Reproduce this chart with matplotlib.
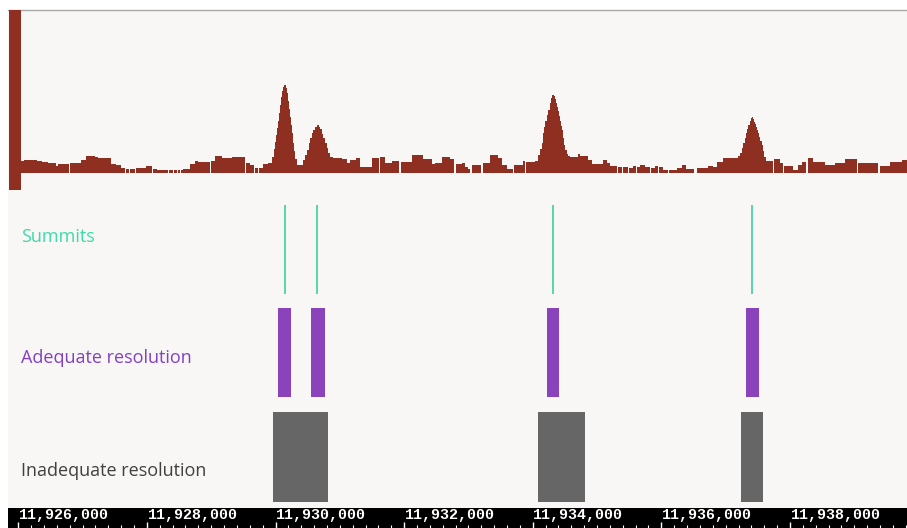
import matplotlib
matplotlib.use("Agg")
import matplotlib.pyplot as plt
from matplotlib.patches import Rectangle
import numpy as np

# ---- data -------------------------------------------------------------
view_start, view_end = 11925840, 11939820

# coverage track as bedGraph-style steps (start of each step, value)
sig_starts = [
    11926030, 11926090, 11926290, 11926370, 11926460, 11926590, 11926620, 11926790,
    11926800, 11926980, 11927050, 11927190, 11927240, 11927440, 11927520, 11927600,
    11927660, 11927680, 11927720, 11927740, 11927820, 11927830, 11927990, 11928080,
    11928100, 11928160, 11928200, 11928330, 11928350, 11928410, 11928420, 11928470,
    11928480, 11928510, 11928530, 11928560, 11928670, 11928750, 11928790, 11928980,
    11929000, 11929060, 11929170, 11929320, 11929520, 11929540, 11929600, 11929660,
    11929680, 11929730, 11929740, 11929810, 11929880, 11929950, 11929980, 11929990,
    11930010, 11930020, 11930040, 11930050, 11930070, 11930090, 11930100, 11930120,
    11930130, 11930160, 11930180, 11930190, 11930210, 11930220, 11930240, 11930260,
    11930270, 11930290, 11930300, 11930330, 11930430, 11930460, 11930490, 11930520,
    11930540, 11930570, 11930580, 11930610, 11930650, 11930680, 11930690, 11930720,
    11930740, 11930770, 11930800, 11930820, 11930850, 11930890, 11931030, 11931110,
    11931160, 11931250, 11931310, 11931500, 11931610, 11931630, 11931700, 11931810,
    11931920, 11931950, 11932120, 11932290, 11932430, 11932480, 11932590, 11932710,
    11932780, 11932800, 11932900, 11932950, 11932990, 11933030, 11933060, 11933200,
    11933230, 11933340, 11933460, 11933520, 11933600, 11933690, 11933710, 11933850,
    11933880, 11933900, 11934040, 11934080, 11934110, 11934140, 11934160, 11934180,
    11934190, 11934220, 11934240, 11934270, 11934280, 11934300, 11934330, 11934350,
    11934360, 11934380, 11934390, 11934410, 11934420, 11934440, 11934460, 11934470,
    11934490, 11934500, 11934530, 11934550, 11934580, 11934700, 11934740, 11934860,
    11934920, 11935090, 11935160, 11935200, 11935310, 11935330, 11935390, 11935400,
    11935480, 11935500, 11935560, 11935610, 11935620, 11935670, 11935750, 11935820,
    11935840, 11935900, 11935950, 11935960, 11936030, 11936100, 11936120, 11936240,
    11936320, 11936380, 11936510, 11936550, 11936730, 11936800, 11936870, 11936960,
    11937190, 11937220, 11937260, 11937270, 11937300, 11937320, 11937330, 11937350,
    11937380, 11937390, 11937410, 11937430, 11937440, 11937460, 11937470, 11937490,
    11937500, 11937520, 11937530, 11937570, 11937580, 11937600, 11937630, 11937740,
    11937750, 11937850, 11937890, 11937910, 11938050, 11938130, 11938190, 11938250,
    11938280, 11938360, 11938550, 11938700, 11938860, 11939040, 11939060, 11939370,
    11939400, 11939560, 11939740,
]
sig_end = 11939820
sig_values = [
    12, 13.5, 12, 11, 10, 7, 8.7, 0,
    9.7, 13, 17, 15.7, 15, 8.7, 8, 5,
    0, 4.5, 0, 4, 0, 5, 7, 0,
    4.5, 3, 3.5, 0, 3.5, 0, 3.5, 0,
    3.5, 0, 3.5, 4, 9, 12, 11.5, 0,
    12, 17, 14.7, 16, 0, 10, 8, 0,
    5, 0, 4.7, 9, 10.3, 16, 24, 31,
    38, 45, 52, 60, 68, 76, 82, 86,
    88, 85, 80, 72, 64, 56, 48, 40,
    30, 22, 14, 8, 13, 18, 23, 30,
    35, 40, 43, 46, 48, 46, 44, 39,
    35, 30, 25, 20, 16, 15.5, 14, 10,
    13, 14.7, 6.3, 14.7, 0, 16, 10, 12,
    0, 11, 18, 13.7, 9, 10, 15.7, 13.7,
    0, 9, 9.7, 5.7, 4, 0, 8, 0,
    10, 18, 14.7, 8, 3.7, 0, 8, 12,
    0, 11.5, 12, 18, 24, 30, 40, 46,
    52, 58, 63, 70, 75, 78, 77, 74,
    70, 66, 62, 57, 52, 47, 43, 35,
    28, 23, 19, 17, 15.7, 19, 16.7, 13,
    9, 13, 10, 7, 0, 6, 0, 6.5,
    0, 5, 7, 0, 6, 8, 6, 0,
    5.5, 7, 0, 6, 3.5, 0, 3, 5,
    7.7, 4, 0, 5, 7.3, 5.7, 11, 15,
    17, 20, 25, 30, 35, 40, 44, 48,
    52, 55, 56, 54, 51, 49, 46, 43,
    40, 36, 32, 28, 22, 16, 12.3, 0,
    13.7, 9.7, 0, 7, 3, 8, 11, 0,
    14.7, 11.3, 8, 9.7, 13.7, 0, 9.7, 0,
    7, 11.3, 13,
]
sig_ymax = 163

summit_pos = [11930150, 11930650, 11934315, 11937410]
adequate_start = [11930040, 11930550, 11934222, 11937317]
adequate_end = [11930235, 11930765, 11934409, 11937525]
inadequate_start = [11929965, 11934087, 11937239]
inadequate_end = [11930821, 11934813, 11937586]

ruler_ticks = [11926000, 11928000, 11930000, 11932000, 11934000, 11936000, 11938000]

track_labels = ["Summits", "Adequate resolution", "Inadequate resolution"]

# ---- style ------------------------------------------------------------
BG = "#f9f7f6"
SIGNAL = "#8e2f22"
TEAL = "#49d3a6"
PURPLE = "#8b43bb"
GREY = "#666666"

W, H = 907, 528
fig = plt.figure(figsize=(W / 100, H / 100), dpi=100, facecolor="white")


def box(x0, y0, x1, y1):
    """Axes rectangle from pixel edges (y measured from the top)."""
    return [x0 / W, 1 - y1 / H, (x1 - x0) / W, (y1 - y0) / H]


def bare(ax):
    ax.set_xlim(view_start, view_end)
    ax.set_xticks([])
    ax.set_yticks([])
    for s in ax.spines.values():
        s.set_visible(False)
    ax.patch.set_alpha(0)


# panel background with a thin top rule
panel = fig.add_axes(box(8, 10, 907, 508))
panel.set_facecolor(BG)
panel.set_xticks([])
panel.set_yticks([])
for name, s in panel.spines.items():
    s.set_visible(name == "top")
panel.spines["top"].set_color("#a8a8a8")
panel.spines["top"].set_linewidth(1.0)

# coverage signal
ax_sig = fig.add_axes(box(8, 10, 907, 173))
bare(ax_sig)
edges = np.array(sig_starts + [sig_end], dtype=float)
ax_sig.stairs(sig_values, edges, fill=True, color=SIGNAL, linewidth=0)
ax_sig.set_ylim(0, sig_ymax)

# track colour marker at the left edge
fig.patches.append(Rectangle((9 / W, 1 - 190 / H), 11.5 / W, 180 / H,
                             transform=fig.transFigure, facecolor=SIGNAL,
                             edgecolor="none", zorder=5))

# summits
ax_sum = fig.add_axes(box(8, 205, 907, 294))
bare(ax_sum)
ax_sum.set_ylim(0, 1)
ax_sum.vlines(summit_pos, 0, 1, color=TEAL, linewidth=1.3)

# adequate resolution intervals
ax_ad = fig.add_axes(box(8, 308, 907, 397))
bare(ax_ad)
ax_ad.set_ylim(0, 1)
ax_ad.broken_barh([(s, e - s) for s, e in zip(adequate_start, adequate_end)],
                  (0, 1), facecolor=PURPLE, edgecolor="none")

# inadequate resolution intervals
ax_in = fig.add_axes(box(8, 412, 907, 502))
bare(ax_in)
ax_in.set_ylim(0, 1)
ax_in.broken_barh([(s, e - s) for s, e in zip(inadequate_start, inadequate_end)],
                  (0, 1), facecolor=GREY, edgecolor="none")

# track names
label_font = dict(family=["Open Sans", "DejaVu Sans"], fontsize=13,
                  va="center", ha="left")
fig.text(21 / W, 1 - 237 / H, track_labels[0], color="#3ddba8", **label_font)
fig.text(21 / W, 1 - 358 / H, track_labels[1], color="#8240c2", **label_font)
fig.text(21 / W, 1 - 471 / H, track_labels[2], color="#404040", **label_font)

# coordinate ruler
ax_r = fig.add_axes(box(8, 508, 907, 528))
ax_r.set_facecolor("black")
ax_r.set_xlim(view_start, view_end)
ax_r.set_ylim(0, 1)
ax_r.set_yticks([])
ax_r.set_xticks(ruler_ticks)
ax_r.set_xticklabels([])
ax_r.set_xticks(np.arange(ruler_ticks[0], view_end, 200), minor=True)
ax_r.tick_params(axis="x", which="major", direction="in", length=4,
                 width=1, color="white", bottom=True)
ax_r.tick_params(axis="x", which="minor", direction="in", length=2,
                 width=0.8, color="white", bottom=True)
for s in ax_r.spines.values():
    s.set_visible(False)
for t in ruler_ticks:
    ax_r.text(t + 10, 0.64, f"{t:,}", color="white", ha="left", va="center",
              family=["Liberation Mono", "DejaVu Sans Mono"],
              fontweight="bold", fontsize=10.8)

fig.savefig("out.png", dpi=100, facecolor="white")
